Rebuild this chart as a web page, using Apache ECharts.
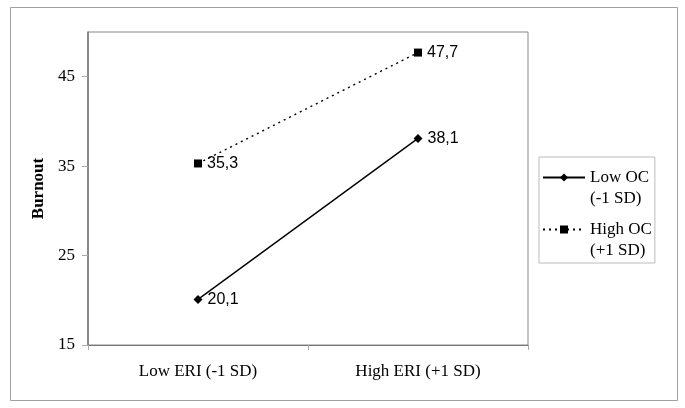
<!DOCTYPE html>
<html>
<head>
<meta charset="utf-8">
<script src="https://cdn.jsdelivr.net/npm/echarts@6/dist/echarts.min.js"></script>
<style>html,body{margin:0;padding:0;background:#fff}#c{width:685px;height:408px}</style>
</head>
<body>
<div id="c"></div>
<script>
var categories = ['Low ERI (-1 SD)', 'High ERI (+1 SD)'];
var lowOC = [20.1, 38.1];
var highOC = [35.3, 47.7];
var seriesNames = ['Low OC\n(-1 SD)', 'High OC\n(+1 SD)'];
var yMin = 15, yMax = 50, yStep = 10;

var serif = '"Liberation Serif", "Times New Roman", serif';
var sans = '"Liberation Sans", Arial, sans-serif';
var labelFmt = function (p) { return String(p.value).replace('.', ','); };

var chart = echarts.init(document.getElementById('c'), null, { renderer: 'canvas' });
chart.setOption({
  animation: false,
  backgroundColor: '#fff',
  graphic: [{
    type: 'rect', left: 8, top: 5,
    shape: { width: 667, height: 393 },
    style: { fill: 'none', stroke: '#a0a0a0', lineWidth: 1 }
  }],
  grid: { left: 88, top: 32, right: 157, bottom: 63, show: true, borderColor: '#888', borderWidth: 1, backgroundColor: '#fff' },
  legend: {
    orient: 'vertical', left: 539, top: 157,
    padding: [-11, 3, 2, 3],
    borderColor: '#bbb', borderWidth: 1,
    itemWidth: 42, itemHeight: 10, itemGap: -11,
    formatter: function (name) { return ' \n' + name; },
    textStyle: { fontFamily: serif, fontSize: 17, color: '#000', lineHeight: 21 },
    data: seriesNames
  },
  xAxis: {
    type: 'category', data: categories, boundaryGap: true,
    axisLine: { lineStyle: { color: '#777', width: 1 } },
    axisTick: { show: true, length: 5, lineStyle: { color: '#aaa' } },
    axisLabel: { fontFamily: serif, fontSize: 17, color: '#000', margin: 18 },
    splitLine: { show: false }
  },
  yAxis: {
    type: 'value', min: yMin, max: yMax, interval: yStep,
    name: 'Burnout', nameLocation: 'middle', nameGap: 39, nameRotate: 90,
    nameTextStyle: { fontFamily: serif, fontSize: 17, fontWeight: 'bold', color: '#000' },
    axisLine: { show: true, lineStyle: { color: '#777', width: 1.5 } },
    axisTick: { show: true, length: 6, lineStyle: { color: '#aaa' } },
    axisLabel: { fontFamily: serif, fontSize: 17, color: '#000', margin: 13, showMaxLabel: false },
    splitLine: { show: false }
  },
  series: [{
    name: seriesNames[0], type: 'line', data: lowOC,
    symbol: 'diamond', symbolSize: 9,
    lineStyle: { color: '#000', width: 1.4, type: 'solid' },
    itemStyle: { color: '#000' },
    label: { show: true, position: 'right', distance: 5, formatter: labelFmt, fontFamily: sans, fontSize: 16, color: '#000' }
  }, {
    name: seriesNames[1], type: 'line', data: highOC,
    symbol: 'rect', symbolSize: 8,
    lineStyle: { color: '#000', width: 1.4, type: [2, 4] },
    itemStyle: { color: '#000' },
    label: { show: true, position: 'right', distance: 5, formatter: labelFmt, fontFamily: sans, fontSize: 16, color: '#000' }
  }]
});
</script>
</body>
</html>
